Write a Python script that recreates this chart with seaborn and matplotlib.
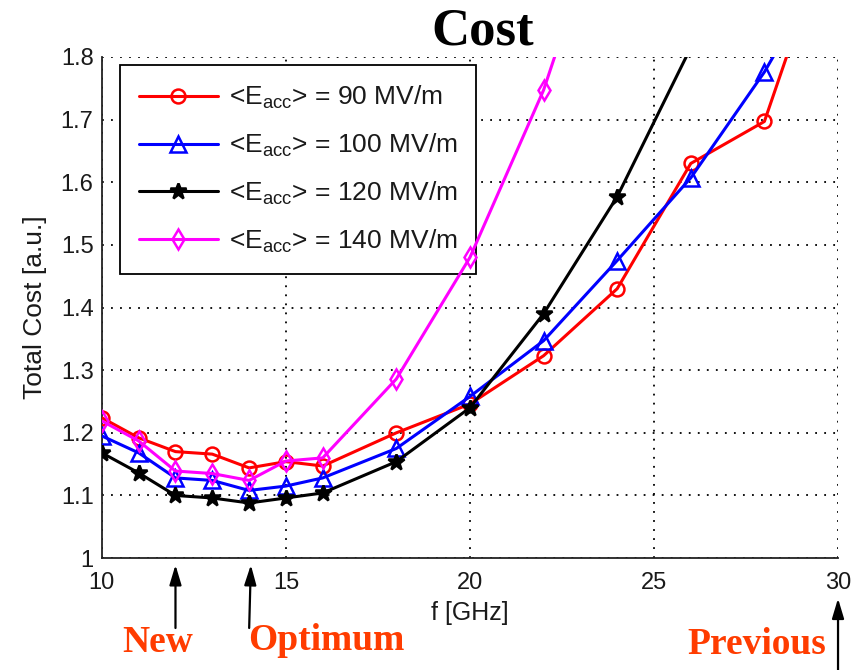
import matplotlib
matplotlib.use("Agg")
import matplotlib.pyplot as plt
import seaborn as sns
import pandas as pd

# Frequency sweep points [GHz]
freq = [10, 11, 12, 13, 14, 15, 16, 18, 20, 22, 24, 26, 28, 30]

# Total cost for each average accelerating gradient
cost_90 = [1.224, 1.192, 1.170, 1.166, 1.144, 1.154, 1.147, 1.200, 1.246, 1.323, 1.430, 1.630, 1.697, 2.04]
cost_100 = [1.195, 1.168, 1.128, 1.124, 1.108, 1.115, 1.128, 1.175, 1.258, 1.347, 1.475, 1.607, 1.776, 1.98]
cost_120 = [1.168, 1.136, 1.100, 1.096, 1.088, 1.096, 1.104, 1.154, 1.240, 1.390, 1.577, 1.815, 2.20]
cost_140 = [1.219, 1.187, 1.139, 1.135, 1.124, 1.155, 1.160, 1.286, 1.480, 1.747, 2.10]

labels = [r"<E$_{\rm acc}$> = 90 MV/m", r"<E$_{\rm acc}$> = 100 MV/m",
          r"<E$_{\rm acc}$> = 120 MV/m", r"<E$_{\rm acc}$> = 140 MV/m"]
series = [cost_90, cost_100, cost_120, cost_140]
colors = ["#ff0000", "#0000ff", "#000000", "#ff00ff"]
markers = ["o", "^", "*", "d"]
facecolors = ["none", "none", "#000000", "none"]
msizes = [10, 11, 12, 10]

x_ticks = [10, 15, 20, 25, 30]
y_ticks = [1, 1.1, 1.2, 1.3, 1.4, 1.5, 1.6, 1.7, 1.8]
y_ticklabels = ["1", "1.1", "1.2", "1.3", "1.4", "1.5", "1.6", "1.7", "1.8"]

sns.set_theme(style="white")
plt.rcParams["font.family"] = ["Liberation Sans", "DejaVu Sans"]
plt.rcParams["mathtext.fontset"] = "custom"
plt.rcParams["mathtext.rm"] = "Liberation Sans"
plt.rcParams["mathtext.it"] = "Liberation Sans"
plt.rcParams["text.color"] = "#1a1a1a"

fig = plt.figure(figsize=(8.56, 6.70), dpi=100)
ax = fig.add_axes([0.119, 0.167, 0.860, 0.748])

for vals, lab, c, m, fc, ms in zip(series, labels, colors, markers, facecolors, msizes):
    df = pd.DataFrame({"f": freq[:len(vals)], "cost": vals})
    sns.lineplot(data=df, x="f", y="cost", ax=ax, color=c, lw=2.2,
                 marker=m, markersize=ms, markerfacecolor=fc,
                 markeredgecolor=c, markeredgewidth=1.8, label=lab, zorder=3)

ax.set_xlim(10, 30)
ax.set_ylim(1, 1.8)
ax.set_xticks(x_ticks)
ax.set_yticks(y_ticks)
ax.set_yticklabels(y_ticklabels)
ax.tick_params(axis="both", labelsize=17, direction="in", length=5, width=1,
               colors="#1a1a1a")
ax.tick_params(axis="x", pad=10)
ax.tick_params(axis="y", pad=6)
ax.grid(True, linestyle=(0, (1, 4)), color="#000000", lw=1.3)
for side in ["top", "right"]:
    ax.spines[side].set_visible(False)
for side in ["left", "bottom"]:
    ax.spines[side].set_color("#222222")
    ax.spines[side].set_linewidth(1.3)

ax.set_xlabel("f [GHz]", fontsize=18, color="#1a1a1a", labelpad=5)
ax.set_ylabel("Total Cost [a.u.]", fontsize=19, color="#1a1a1a", labelpad=10)

leg = ax.legend(loc="upper left", bbox_to_anchor=(0.0245, 0.984), borderaxespad=0,
                fontsize=19, frameon=True, fancybox=False, edgecolor="#000000",
                framealpha=1, handlelength=3.0, labelspacing=0.78,
                borderpad=0.72, handletextpad=0.4)
leg.get_frame().set_linewidth(1.3)
leg.set_zorder(2.5)

fig.text(0.564, 0.953, "Cost", fontsize=38, fontweight="bold", color="#000000",
         family="Liberation Serif", ha="center", va="center")

# Design markers below the frequency axis
note_color = "#ff3c00"
arrow_kw = dict(arrowstyle="-|>,head_length=1.0,head_width=0.3", color="#000000", lw=1.6)
ax.annotate("", xy=(12, -0.008), xycoords=("data", "axes fraction"),
            xytext=(12, -0.145), textcoords=("data", "axes fraction"), arrowprops=arrow_kw)
ax.annotate("", xy=(14.05, -0.008), xycoords=("data", "axes fraction"),
            xytext=(14.0, -0.145), textcoords=("data", "axes fraction"), arrowprops=arrow_kw)
ax.annotate("", xy=(30, -0.075), xycoords=("data", "axes fraction"),
            xytext=(30, -0.235), textcoords=("data", "axes fraction"),
            arrowprops=arrow_kw, annotation_clip=False)

fig.text(158 / 856, 1 - 643 / 670, "New", color=note_color, fontsize=27,
         fontweight="bold", family="Liberation Serif", ha="center", va="center")
fig.text(326 / 856, 1 - 641 / 670, "Optimum", color=note_color, fontsize=27,
         fontweight="bold", family="Liberation Serif", ha="center", va="center")
fig.text(757 / 856, 1 - 645 / 670, "Previous", color=note_color, fontsize=27,
         fontweight="bold", family="Liberation Serif", ha="center", va="center")

fig.savefig("out.png", dpi=100)
